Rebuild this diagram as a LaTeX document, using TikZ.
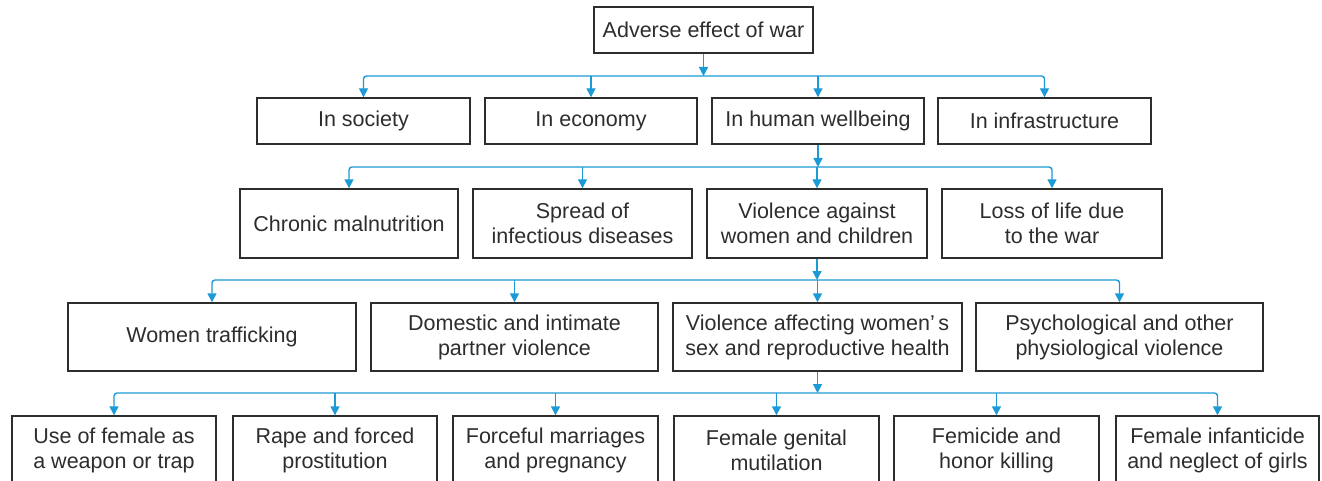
\documentclass[tikz,border=0pt]{standalone}
\usepackage{fontspec}
\setmainfont{Liberation Sans}
\usetikzlibrary{arrows.meta}
\definecolor{wirec}{RGB}{27,154,214}
\definecolor{ink}{RGB}{45,45,45}
\newcommand\mkbox[6]{\node[box, minimum width={(#4-#2)*1pt}, minimum height={(#5-#3)*1pt}] (#1) at ({(#2+#4)/2},{(#3+#5)/2}) {#6};}
\begin{document}
\begin{tikzpicture}[x=1pt,y=-1pt,
  box/.style={draw=ink, line width=1.4pt, text=ink, inner sep=0pt, align=center, font=\fontsize{21.5}{25}\selectfont},
  wire/.style={draw=wirec, line width=1.4pt, rounded corners=3pt},
  >={Triangle[length=9pt,width=9pt]}]
\useasboundingbox (0,0) rectangle (1322,481);
\clip (0,0) rectangle (1322,481);
% row 1
\mkbox{top}{594}{7}{813}{53}{Adverse effect of war}
% row 2
\mkbox{soc}{257}{98}{470}{144}{In society}
\mkbox{eco}{485}{98}{697}{144}{In economy}
\mkbox{hum}{712}{98}{924}{144}{In human wellbeing}
\mkbox{inf}{938}{98}{1151}{144}{In infrastructure}
% row 3
\mkbox{mal}{240}{189}{458}{258}{Chronic malnutrition}
\mkbox{inf2}{473}{189}{692}{258}{Spread of\\infectious diseases}
\mkbox{vio}{707}{189}{927}{258}{Violence against\\women and children}
\mkbox{loss}{942}{189}{1162}{258}{Loss of life due\\to the war}
% row 4
\mkbox{traf}{68}{303}{356}{371}{Women trafficking}
\mkbox{dom}{371}{303}{658}{371}{Domestic and intimate\\partner violence}
\mkbox{sex}{673}{303}{962}{371}{Violence affecting women’\,s\\sex and reproductive health}
\mkbox{psy}{976}{303}{1263}{371}{Psychological and other\\physiological violence}
% row 5
\mkbox{wea}{12}{416}{216}{484}{Use of female as\\a weapon or trap}
\mkbox{rape}{233}{416}{437}{484}{Rape and forced\\prostitution}
\mkbox{mar}{453}{416}{658}{484}{Forceful marriages\\and pregnancy}
\mkbox{fgm}{674}{416}{879}{484}{Female genital\\mutilation}
\mkbox{fem}{894}{416}{1099}{484}{Femicide and\\honor killing}
\mkbox{infa}{1116}{416}{1319}{484}{Female infanticide\\and neglect of girls}
% buses
\coordinate (b1) at (0,76);
\coordinate (b2) at (0,167);
\coordinate (b3) at (0,280);
\coordinate (b4) at (0,393);
% level 1 -> 2
\draw[wire,->] (top.south) -- (top.south |- b1);
\draw[wire,<->] (soc.north) -- (soc.north |- b1) -- (inf.north |- b1) -- (inf.north);
\draw[wire,->] (eco.north |- b1) -- (eco.north);
\draw[wire,->] (hum.north |- b1) -- (hum.north);
% level 2 -> 3
\draw[wire,->] (hum.south) -- (hum.south |- b2);
\draw[wire,<->] (mal.north) -- (mal.north |- b2) -- (loss.north |- b2) -- (loss.north);
\draw[wire,->] (inf2.north |- b2) -- (inf2.north);
\draw[wire,->] (vio.north |- b2) -- (vio.north);
% level 3 -> 4
\draw[wire,->] (vio.south) -- (vio.south |- b3);
\draw[wire,<->] (traf.north) -- (traf.north |- b3) -- (psy.north |- b3) -- (psy.north);
\draw[wire,->] (dom.north |- b3) -- (dom.north);
\draw[wire,->] (sex.north |- b3) -- (sex.north);
% level 4 -> 5
\draw[wire,->] (sex.south) -- (sex.south |- b4);
\draw[wire,<->] (wea.north) -- (wea.north |- b4) -- (infa.north |- b4) -- (infa.north);
\draw[wire,->] (rape.north |- b4) -- (rape.north);
\draw[wire,->] (mar.north |- b4) -- (mar.north);
\draw[wire,->] (fgm.north |- b4) -- (fgm.north);
\draw[wire,->] (fem.north |- b4) -- (fem.north);
\end{tikzpicture}
\end{document}
